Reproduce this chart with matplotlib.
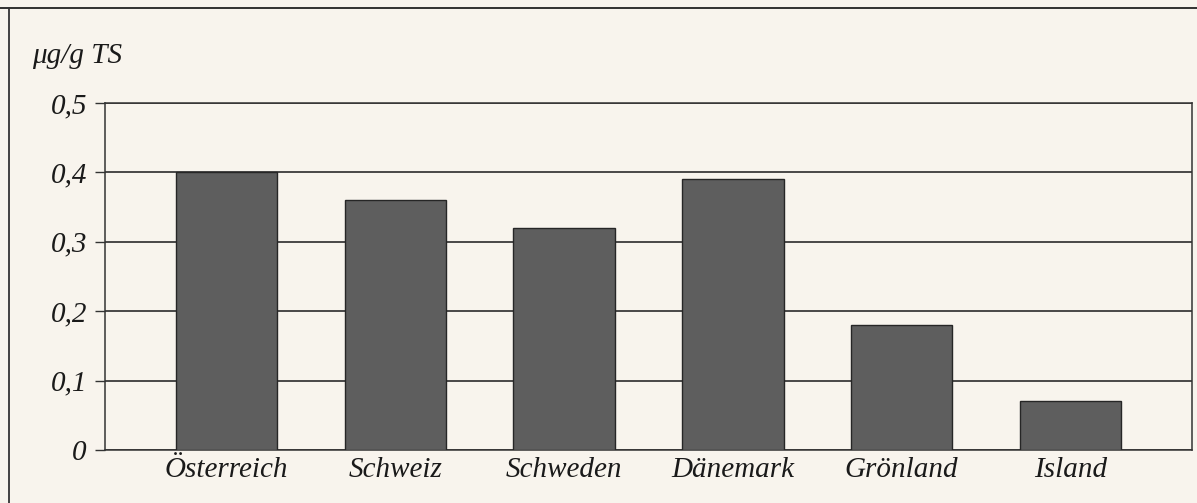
import matplotlib.pyplot as plt
from matplotlib.lines import Line2D

# Messwerte je Land
laender = ['Österreich', 'Schweiz', 'Schweden', 'Dänemark', 'Grönland', 'Island']
werte = [0.40, 0.36, 0.32, 0.39, 0.18, 0.07]
y_ticks = [0, 0.1, 0.2, 0.3, 0.4, 0.5]
y_labels = ['0', '0,1', '0,2', '0,3', '0,4', '0,5']

paper = '#f8f4ed'
plt.rcParams['font.family'] = ['Liberation Serif', 'DejaVu Serif']
plt.rcParams['font.style'] = 'italic'

fig = plt.figure(figsize=(11.97, 5.03), dpi=100, facecolor=paper)
ax = fig.add_axes([0.0877, 0.1054, 0.9081, 0.6898])
ax.set_facecolor(paper)

ax.bar(range(len(laender)), werte, width=0.6, color='#5e5e5e',
       edgecolor='#262626', linewidth=1.0, zorder=3)

ax.set_xlim(-0.72, 5.72)
ax.set_ylim(0, 0.5)
ax.set_yticks(y_ticks)
ax.set_yticklabels(y_labels)
ax.set_xticks(range(len(laender)))
ax.set_xticklabels(laender)

ax.yaxis.grid(True, color='#1a1a1a', linewidth=1.1, zorder=1)
ax.set_axisbelow(True)
ax.tick_params(axis='y', direction='out', length=7, width=1.0,
               color='#333333', labelsize=21, pad=6)
ax.tick_params(axis='x', length=0, labelsize=21, pad=5)
for lbl in ax.get_xticklabels() + ax.get_yticklabels():
    lbl.set_style('italic')
    lbl.set_color('#1a1a1a')

for s in ax.spines.values():
    s.set_color('#333333')
    s.set_linewidth(1.1)

fig.text(32 / 1197, 1 - 63 / 503, 'μg/g TS', fontsize=21,
         style='italic', color='#1a1a1a', ha='left', va='baseline')

# Rahmen oben und links
fig.add_artist(Line2D([0, 1], [1 - 8 / 503, 1 - 8 / 503],
                      transform=fig.transFigure, color='#222222', linewidth=1.3))
fig.add_artist(Line2D([9 / 1197, 9 / 1197], [0, 1 - 8 / 503],
                      transform=fig.transFigure, color='#333333', linewidth=1.3))

fig.savefig('out.png', dpi=100, facecolor=paper)
